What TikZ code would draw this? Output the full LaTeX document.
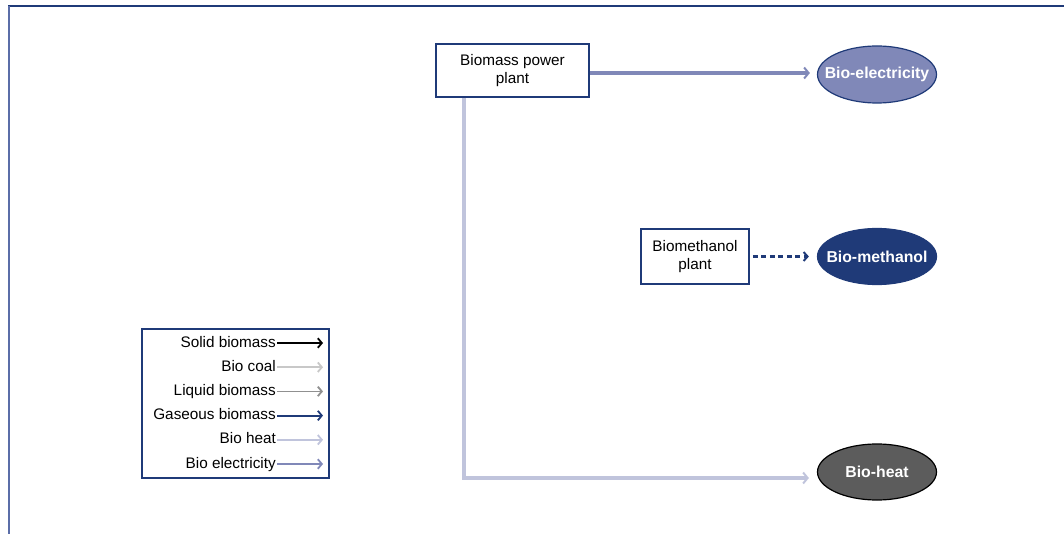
\documentclass[tikz,border=0pt]{standalone}
\usepackage{fontspec}
\setmainfont{Liberation Sans}
\usetikzlibrary{arrows.meta,shapes.geometric}
\definecolor{navy}{HTML}{1F3A78}
\definecolor{frameside}{HTML}{5B6EA8}
\definecolor{elec}{HTML}{8088B8}
\definecolor{heat}{HTML}{C0C4DC}
\definecolor{coal}{HTML}{C8C8C8}
\definecolor{liquid}{HTML}{909090}
\definecolor{heatfill}{HTML}{5C5C5C}
\begin{document}
\begin{tikzpicture}[x=1pt,y=-1pt,
  plantbox/.style={draw=navy,line width=1.8pt,fill=white,align=center,
    font=\fontsize{15.3}{18}\selectfont,inner sep=0pt},
  product/.style={ellipse,line width=1.2pt,minimum width=119pt,minimum height=56pt,
    inner xsep=-20pt,inner ysep=0pt,text=white,font=\fontsize{15.8}{17}\selectfont\bfseries},
  flow/.style={line width=3.8pt,-{Straight Barb[length=4.5pt,width=11pt,line width=2pt]}},
  legtext/.style={anchor=east,inner sep=1pt,text height=11pt,text depth=3pt,
    font=\fontsize{15.3}{16.5}\selectfont},
  legarrow/.style={line width=1.8pt,-{Straight Barb[length=4pt,width=9.5pt,line width=1.8pt]}}]
\useasboundingbox (0,0) rectangle (1064,534);
% page frame
\draw[navy,line width=2pt] (8,6.5) -- (1064,6.5);
\draw[frameside,line width=2pt] (8.5,6) -- (8.5,534);

% plants
\node[plantbox,minimum width=153pt,minimum height=53pt] (bpp) at (512.5,70.5) {Biomass power\\plant};
\node[plantbox,minimum width=108pt,minimum height=55pt] (bmp) at (695,256.5) {Biomethanol\\plant};

% products
\node[product,draw=navy,fill=elec,minimum height=57pt] (bioel) at (877,74.5) {Bio-electricity};
\node[product,draw=navy,fill=navy] (biometh) at (877,256.5) {Bio-methanol};
\node[product,draw=black,fill=heatfill] (bioheat) at (877,472) {Bio-heat};

% flows
\coordinate (elecy) at (0,73);
\coordinate (bend) at (464,478);
\draw[flow,elec,shorten >=7pt] (bpp.east |- elecy) -- (bioel.west |- elecy);
\draw[flow,heat,shorten >=8pt] (bpp.south -| bend) -- (bend) -- (bioheat.west |- bend);
\draw[navy,line width=2.5pt,dash pattern=on 5pt off 3.5pt,shorten <=3pt,shorten >=8pt,
  -{Straight Barb[length=4pt,width=9pt,line width=2pt]}] (bmp.east) -- (biometh.west);

% legend
\node[draw=navy,line width=1.8pt,minimum width=187pt,minimum height=149pt,inner sep=0pt] (legend) at (235.5,403.5) {};
\foreach \name/\lab/\col [count=\i] in {solid/Solid biomass/black, coal/Bio coal/coal,
  liq/Liquid biomass/liquid, gas/Gaseous biomass/navy, lheat/Bio heat/heat,
  lelec/Bio electricity/elec} {
  \node[legtext] (\name) at (277,{343+(\i-1)*24.2}) {\lab};
  \coordinate (\name end) at (323,{343+(\i-1)*24.2});
  \draw[legarrow,\col] (\name.east) -- (\name end);
}
\end{tikzpicture}
\end{document}
